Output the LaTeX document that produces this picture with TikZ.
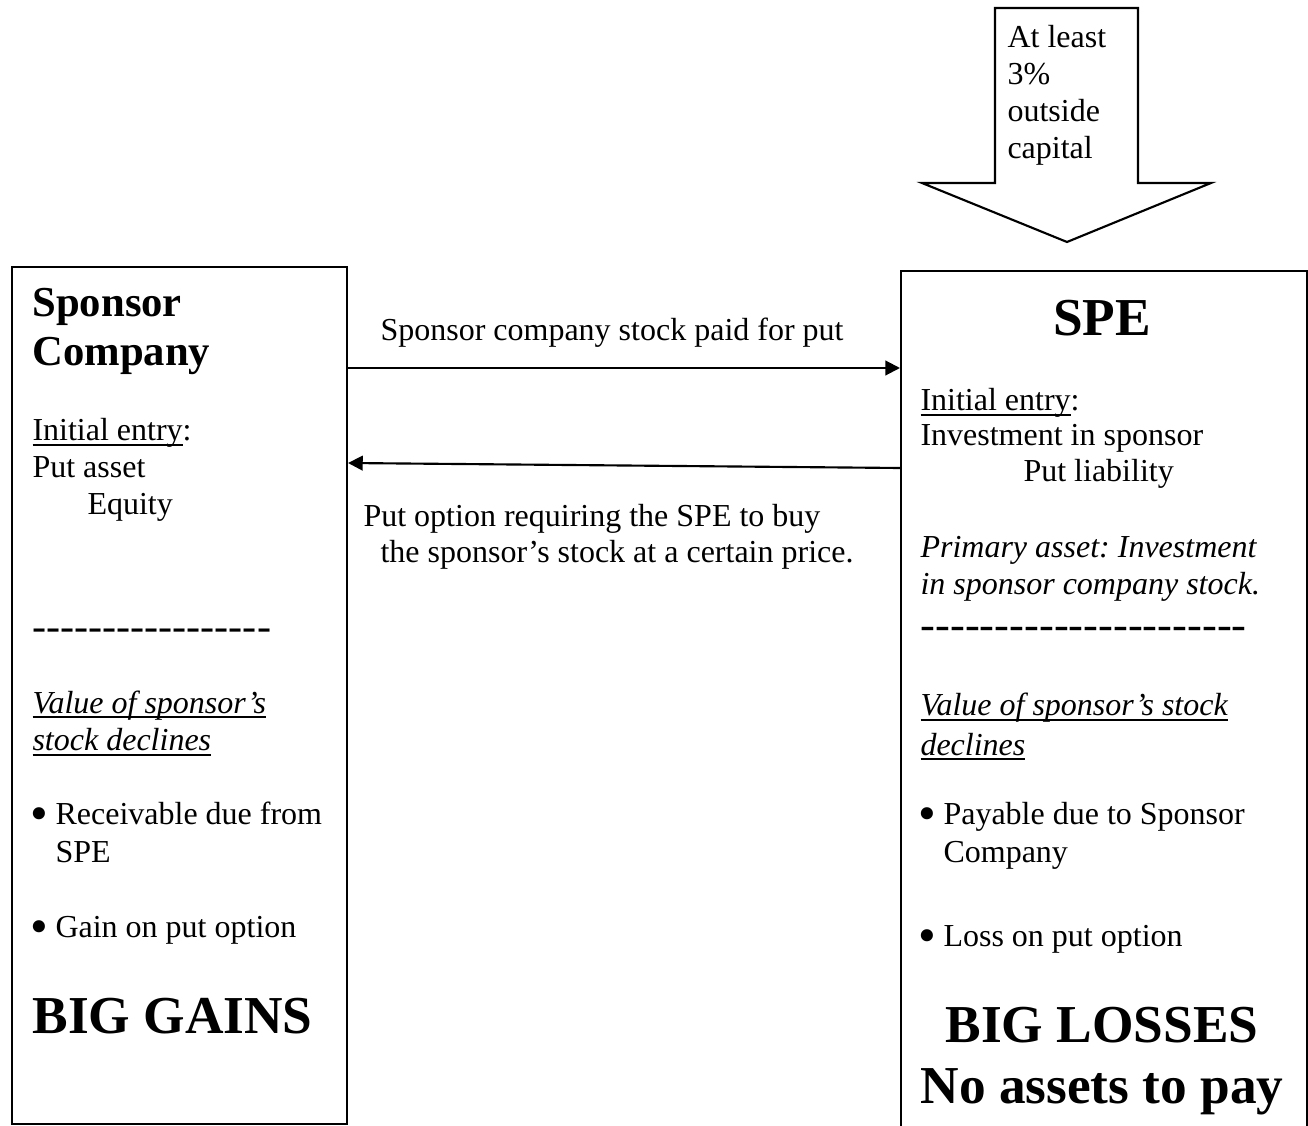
\documentclass[tikz,border=0pt]{standalone}
\usepackage{fontspec}
\setmainfont{Liberation Serif}
\usetikzlibrary{arrows.meta}
\frenchspacing
% a hyphen that never joins its neighbour into a dash ligature
\newcommand\hy{-\kern0pt}
% a plain underline at a fixed depth below the baseline
\newcommand\ulin[1]{\leavevmode\setbox0\hbox{#1}\rlap{\vrule height -1.0pt depth 1.7pt width \wd0}\box0}
\begin{document}
\begin{tikzpicture}[x=0.375pt,y=-0.375pt,
  frame/.style={draw, line width=0.8pt, inner sep=0pt, anchor=north west},
  body/.style={anchor=base west, inner sep=0pt, font=\fontsize{12}{14}\selectfont},
  dot/.style={anchor=base west, inner sep=0pt, font=\fontsize{19}{20}\selectfont},
  head/.style={anchor=base west, inner sep=0pt, font=\fontsize{16}{18}\selectfont\bfseries},
  bigc/.style={anchor=base, inner sep=0pt, font=\fontsize{20}{23}\selectfont\bfseries},
  bigl/.style={anchor=base west, inner sep=0pt, font=\fontsize{20}{23}\selectfont\bfseries},
  sep/.style={anchor=base west, inner sep=0pt, font=\fontsize{#1}{18}\selectfont},
  flow/.style={line width=0.8pt, -{Triangle[length=5.5pt,width=5.5pt]}},
]
\useasboundingbox (0,0) rectangle (1308,1126);

% the two parties
\node[frame, minimum width=125.6pt, minimum height=321.4pt] (sponsor) at (11,266) {};
\node[frame, minimum width=152.3pt, minimum height=330pt] (spe) at (900,270) {};

% outside capital flowing into the SPE
\draw[line width=0.8pt, line join=miter]
  (995,8) -- (1138,8) -- (1138,183) -- (1211,183) -- (1067,242)
  -- (922,183) -- (995,183) -- cycle;
\node[body] (cap1) at (1007,48) {At least};
\node[body] (cap2) at (1007,85) {3\%};
\node[body] (cap3) at (1007,122) {outside};
\node[body] (cap4) at (1007,159) {capital};

% sponsor company column
\node[head] (s1) at (32,317) {Sponsor};
\node[head] (s2) at (32,366) {Company};
\node[body] (s3) at (32,441) {\ulin{Initial entry}:};
\node[body] (s4) at (32,478) {Put asset};
\node[body] (s5) at (87,515) {Equity};
\node[sep=15.8] (s6) at (32,641) {\hy\hy\hy\hy\hy\hy\hy\hy\hy\hy\hy\hy\hy\hy\hy\hy\hy};
\node[body] (s7) at (32,713) {\itshape\ulin{Value of sponsor’s}};
\node[body] (s8) at (32,751) {\itshape\ulin{stock declines}};
\node[dot] (s9b) at (30,830) {•};
\node[body] (s9) at (55,824) {Receivable due from};
\node[body] (s10) at (55,862) {SPE};
\node[dot] (s11b) at (30,943) {•};
\node[body] (s11) at (55,937) {Gain on put option};
\node[bigl] (s12) at (32,1033) {BIG GAINS};

% SPE column
\node[bigc] (p1) at (1102,336) {SPE};
\node[body] (p2) at (920,411) {\ulin{Initial entry}:};
\node[body] (p3) at (920,446) {Investment in sponsor};
\node[body] (p4) at (1023,482) {Put liability};
\node[body] (p5) at (920,558) {\itshape Primary asset: Investment};
\node[body] (p6) at (920,595) {\itshape in sponsor company stock.};
\node[sep=16.7] (p7) at (920,639) {\hy\hy\hy\hy\hy\hy\hy\hy\hy\hy\hy\hy\hy\hy\hy\hy\hy\hy\hy\hy\hy\hy};
\node[body] (p8) at (920,716) {\itshape\ulin{Value of sponsor’s stock}};
\node[body] (p9) at (920,755) {\itshape\ulin{declines}};
\node[dot] (p10b) at (918,830) {•};
\node[body] (p10) at (943,824) {Payable due to Sponsor};
\node[body] (p11) at (943,862) {Company};
\node[dot] (p12b) at (918,952) {•};
\node[body] (p12) at (943,946) {Loss on put option};
\node[bigc] (p13) at (1102,1042) {BIG LOSSES};
\node[bigc] (p14) at (1102,1103) {No assets to pay};

% exchanges between the parties
\draw[flow] (sponsor.east |- 0,368) -- (spe.west |- 0,368);
\node[body] (m1) at (380,341) {Sponsor company stock paid for put};
\draw[flow] (spe.west |- 0,468) -- (sponsor.east |- 0,463);
\node[body] (m2) at (363,527) {Put option requiring the SPE to buy};
\node[body] (m3) at (380,563) {the sponsor’s stock at a certain price.};
\end{tikzpicture}
\end{document}
